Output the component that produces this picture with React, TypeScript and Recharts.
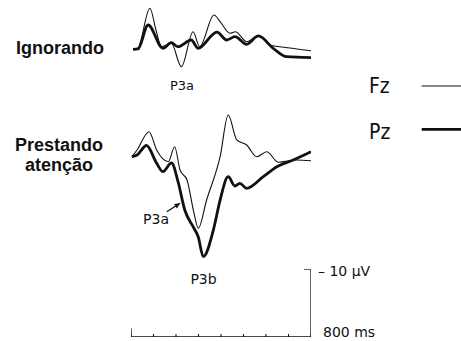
import { Line, LineChart, ReferenceLine, XAxis, YAxis } from "recharts";

// ERP waveforms, time in ms, amplitude in µV (positive plotted downward)
const ignFzTime = [9, 31, 84, 111, 135, 179, 224, 276, 305, 369, 396, 440, 464, 514, 566, 618, 707, 800];
const ignFzUv = [-0.25, -0.44, -6.28, -3.09, -0.63, -1.13, 2.31, -2.84, -0.63, -5.29, -4.31, -2.6, -2.84, -1.37, -2.28, -0.88, -0.44, -0.04];
const ignPzTime = [9, 31, 76, 142, 179, 209, 268, 298, 382, 425, 462, 514, 566, 632, 692, 800];
const ignPzUv = [-0.25, -0.3, -3.82, -0.4, -1.22, -0.63, -1.62, -0.4, -2.79, -1.62, -2.1, -0.99, -2.21, -0.4, 0.84, 0.96];

const attFzTime = [4, 27, 80, 114, 166, 194, 218, 249, 280, 299, 336, 396, 432, 470, 514, 559, 603, 655, 736, 800];
const attFzUv = [3.34, 2.35, -0.34, 2.35, 4.07, 1.87, 5.29, 6.76, 11.62, 13.87, 9.71, 3.34, -2.79, 0.88, 1.62, 3.34, 2.6, 4.16, 3.82, 3.93];
const attPzTime = [4, 27, 69, 114, 142, 180, 209, 239, 276, 299, 321, 366, 396, 432, 462, 484, 514, 588, 648, 721, 800];
const attPzUv = [3.34, 3.09, 1.69, 4.31, 5.54, 4.26, 7.01, 11.18, 13.63, 15.15, 18.04, 14.12, 9.71, 6.28, 7.65, 7.25, 7.99, 6.28, 4.81, 3.82, 2.6];

const timeTicks = [0, 100, 200, 300, 400, 500, 600, 700, 800];
const ampTicks = [10];

const toPoints = (time: number[], uv: number[]) => time.map((t, i) => ({ t, uv: uv[i] }));

const INK = "#111";
const small = "'DejaVu Sans', sans-serif";
const bold = "'Liberation Sans', Arial, sans-serif";

const NoLabel = () => <g />;

function Arrow(props: any) {
  const { x1, y1, x2, y2 } = props;
  const a = Math.atan2(y2 - y1, x2 - x1);
  const s = 6;
  const hx1 = x2 - s * Math.cos(a - 0.45);
  const hy1 = y2 - s * Math.sin(a - 0.45);
  const hx2 = x2 - s * Math.cos(a + 0.45);
  const hy2 = y2 - s * Math.sin(a + 0.45);
  return (
    <g>
      <line x1={x1} y1={y1} x2={x2} y2={y2} stroke={INK} strokeWidth={1.2} />
      <polygon points={`${x2},${y2} ${hx1},${hy1} ${hx2},${hy2}`} fill={INK} />
    </g>
  );
}

function Panel({ top, height, domain, fz, pz, children }: any) {
  return (
    <div style={{ position: "absolute", left: 131, top }}>
      <LineChart width={180} height={height} margin={{ top: 0, right: 0, bottom: 0, left: 0 }}>
        <XAxis type="number" dataKey="t" domain={[0, 800]} hide />
        <YAxis type="number" domain={domain} reversed hide />
        <Line data={fz} dataKey="uv" type="monotone" stroke={INK} strokeWidth={1.1} dot={false} isAnimationActive={false} />
        <Line data={pz} dataKey="uv" type="monotone" stroke={INK} strokeWidth={2.8} dot={false} isAnimationActive={false} />
        {children}
      </LineChart>
    </div>
  );
}

export default function App() {
  const barData = timeTicks.map((t) => ({ t, uv: 0 }));
  return (
    <div style={{ position: "absolute", left: 0, top: 0, width: 461, height: 341, background: "#fff" }}>
      <Panel top={0} height={85} domain={[-7.5, 5]} fz={toPoints(ignFzTime, ignFzUv)} pz={toPoints(ignPzTime, ignPzUv)} />
      <Panel top={100} height={170} domain={[-5, 20]} fz={toPoints(attFzTime, attFzUv)} pz={toPoints(attPzTime, attPzUv)}>
        <ReferenceLine segment={[{ x: 159, y: 11.43 }, { x: 218, y: 10.19 }]} shape={Arrow} />
      </Panel>

      {/* calibration bar: 800 ms / 10 µV */}
      <div style={{ position: "absolute", left: 131, top: 269 }}>
        <LineChart width={180} height={68} data={barData} margin={{ top: 0, right: 0, bottom: 0, left: 0 }}>
          <XAxis type="number" dataKey="t" domain={[0, 800]} ticks={timeTicks} interval={0} tick={NoLabel} tickSize={3} tickMargin={0} mirror height={1}
            axisLine={{ stroke: INK, strokeWidth: 1.3 }} tickLine={{ stroke: INK, strokeWidth: 1.1 }} />
          <YAxis type="number" orientation="right" domain={[0, 10]} ticks={ampTicks} interval={0} tick={NoLabel} tickSize={7} tickMargin={0} mirror width={1}
            axisLine={{ stroke: INK, strokeWidth: 1.3 }} tickLine={{ stroke: INK, strokeWidth: 1.3 }} />
          <Line dataKey="uv" stroke="none" dot={false} isAnimationActive={false} />
          <ReferenceLine segment={[{ x: 0, y: 0 }, { x: 0, y: 1.3 }]} stroke={INK} strokeWidth={1.3} />
        </LineChart>
      </div>

      <svg width={461} height={341} style={{ position: "absolute", left: 0, top: 0, pointerEvents: "none" }}>
        <g fontFamily={bold} fontWeight="bold" fontSize={18} fill={INK} textAnchor="middle">
          <text x={60} y={54}>Ignorando</text>
          <text x={59} y={151}>Prestando</text>
          <text x={59} y={170.5}>atenção</text>
        </g>
        <g fontFamily={small} fill={INK} textAnchor="middle">
          <text x={182} y={90} fontSize={13}>P3a</text>
          <text x={156} y={224} fontSize={14}>P3a</text>
          <text x={203.5} y={284} fontSize={14}>P3b</text>
        </g>
        <g fontFamily={small} fill={INK} fontSize={14}>
          <text x={318} y={275.5}>– 10 µV</text>
          <text x={323} y={337}>800 ms</text>
        </g>
        <g fontFamily="'Liberation Sans Narrow', 'DejaVu Sans Condensed', sans-serif" fontSize={21} fill={INK}>
          <text x={369} y={93}>Fz</text>
          <text x={369} y={139}>Pz</text>
        </g>
        <line x1={421.7} y1={86} x2={461} y2={86} stroke={INK} strokeWidth={1.2} />
        <line x1={421.7} y1={129.3} x2={461} y2={129.3} stroke={INK} strokeWidth={2.8} />
      </svg>
    </div>
  );
}
